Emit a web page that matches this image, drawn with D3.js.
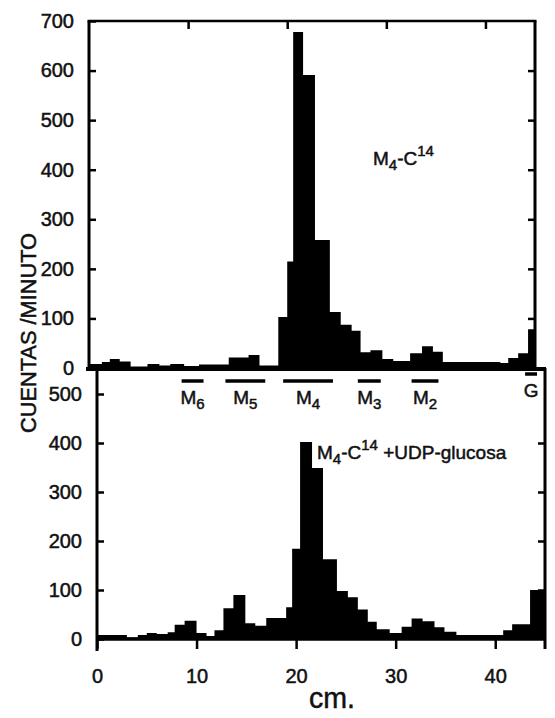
<!DOCTYPE html>
<html>
<head>
<meta charset="utf-8">
<script src="https://cdn.jsdelivr.net/npm/d3@7"></script>
<style>
body { margin: 0; background: #fff; }
text { font-family: "Liberation Sans", Arial, sans-serif; fill: #111; stroke: #111; stroke-width: 0.5px; }
</style>
</head>
<body>
<div id="chart"></div>
<script>
//////////////////////////////////////////////////////////////////////////////
// Data (cm along the strip, counts per minute)

var topEdges  = [0, 1.3, 2.1, 3.1, 4.2, 5.9, 7.1, 8.2, 9.6, 11.1, 14.1, 16.1, 17.2,
                 19.1, 20.0, 20.6, 21.6, 22.8, 24.3, 25.4, 26.5, 27.4, 28.4, 29.6,
                 30.7, 32.4, 33.6, 34.7, 35.7, 41.5, 42.3, 43.3, 44.3, 45];
var topCounts = [8, 12, 18, 13, 3, 8, 5, 8, 4, 7, 21, 26, 5,
                 103, 215, 678, 591, 258, 113, 87, 75, 32, 36, 18,
                 14, 30, 44, 33, 12, 10, 20, 30, 78];

var botEdges  = [0, 3.0, 4.1, 5.0, 6.0, 7.1, 7.8, 8.8, 10.0, 11.0, 11.8, 12.7, 13.7,
                 14.9, 15.9, 17.0, 19.0, 19.6, 20.4, 21.6, 22.7, 24.1, 25.2, 26.2,
                 27.2, 28.1, 29.4, 30.6, 31.6, 32.7, 33.9, 34.9, 36.1, 40.8, 41.7, 43.5, 45];
var botCounts = [8, 3, 8, 12, 10, 14, 29, 37, 12, 6, 18, 63, 90,
                 32, 27, 43, 65, 184, 402, 349, 163, 98, 85, 60,
                 35, 20, 12, 25, 42, 36, 24, 15, 8, 18, 30, 100];

var markerNames = ["M", "M", "M", "M", "M", "G"];
var markerSubs  = ["6", "5", "4", "3", "2", ""];
var markerFrom  = [8.5, 12.9, 18.7, 26.2, 31.6, 43.0];
var markerTo    = [10.7, 16.9, 23.7, 28.5, 34.3, 44.2];

var topYTicks = [0, 100, 200, 300, 400, 500, 600, 700];
var botYTicks = [0, 100, 200, 300, 400, 500];
var xTicks    = [0, 10, 20, 30, 40];

//////////////////////////////////////////////////////////////////////////////
// Scales

var xTop = d3.scaleLinear().domain([0, 45]).range([89, 535]);
var yTop = d3.scaleLinear().domain([0, 700]).range([368, 21]);
var xBot = d3.scaleLinear().domain([0, 45]).range([97, 545]);
var yBot = d3.scaleLinear().domain([0, 500]).range([639, 394]);

// step points: each bin's left edge + closing point at the last right edge
function steps(edges, counts) {
    var pts = counts.map(function(c, i) { return {x: edges[i], v: c}; });
    pts.push({x: edges[edges.length - 1], v: counts[counts.length - 1]});
    return pts;
}

var svg = d3.select("#chart")
    .append("svg")
    .attr("width", 555)
    .attr("height", 718);

svg.append("rect").attr("width", 555).attr("height", 718).attr("fill", "#fff");

function drawHist(pts, x, y) {
    var area = d3.area()
        .curve(d3.curveStepAfter)
        .x(function(d) { return x(d.x); })
        .y0(y(0))
        .y1(function(d) { return y(d.v); });
    svg.append("path")
        .datum(pts)
        .attr("d", area)
        .attr("fill", "#000");
}

drawHist(steps(topEdges, topCounts), xTop, yTop);
drawHist(steps(botEdges, botCounts), xBot, yBot);

function line(x1, y1, x2, y2, w) {
    svg.append("line")
        .attr("x1", x1).attr("y1", y1).attr("x2", x2).attr("y2", y2)
        .attr("stroke", "#000").attr("stroke-width", w);
}

// frames
line(xTop(0), yTop(700), xTop(0), yTop(0), 3);
line(xTop(0) - 1.5, yTop(700), xTop(45) + 1.5, yTop(700), 2.5);
line(xTop(45), yTop(700), xTop(45), yTop(0), 3);
line(xTop(0) - 3, yTop(0) + 1, xBot(45) + 1, yTop(0) + 1, 4);
line(xBot(0), yTop(0), xBot(0), yBot(0) + 12, 3);
line(xBot(45), yTop(0), xBot(45), yBot(0) + 10, 3);
line(xBot(0), yBot(0), xBot(45), yBot(0), 3.5);

function styleAxis(g, size) {
    g.select(".domain").remove();
    g.selectAll(".tick line").attr("stroke", "#000").attr("stroke-width", 2.5);
    g.selectAll(".tick text")
        .attr("font-size", size)
        .attr("fill", "#111");
}

svg.append("g")
    .attr("transform", "translate(" + xTop(0) + ",0)")
    .call(d3.axisLeft(yTop).tickValues(topYTicks).tickSize(-7).tickPadding(15))
    .call(styleAxis, 20);

svg.append("g")
    .attr("transform", "translate(" + xTop(45) + ",0)")
    .call(d3.axisRight(yTop).tickValues(topYTicks.slice(1, 7)).tickSize(-7).tickFormat(""))
    .call(styleAxis, 20);

svg.append("g")
    .attr("transform", "translate(0," + yTop(700) + ")")
    .call(d3.axisTop(xTop).tickValues(xTicks.slice(1)).tickSize(-8).tickFormat(""))
    .call(styleAxis, 20);

svg.append("g")
    .attr("transform", "translate(" + xBot(0) + ",0)")
    .call(d3.axisLeft(yBot).tickValues(botYTicks).tickSize(-7).tickPadding(15))
    .call(styleAxis, 20);

svg.append("g")
    .attr("transform", "translate(" + xBot(45) + ",0)")
    .call(d3.axisRight(yBot).tickValues(botYTicks.slice(1, 5)).tickSize(-7).tickFormat(""))
    .call(styleAxis, 20);

svg.append("g")
    .attr("transform", "translate(0," + yBot(0) + ")")
    .call(d3.axisBottom(xBot).tickValues(xTicks).tickSize(10).tickPadding(20))
    .call(styleAxis, 20);

// marker bars between the panels
var markers = markerNames.map(function(n, i) {
    return {name: n, sub: markerSubs[i], a: markerFrom[i], b: markerTo[i]};
});

svg.append("g")
    .selectAll("line")
    .data(markers)
    .enter()
    .append("line")
    .attr("x1", function(d) { return xBot(d.a); })
    .attr("x2", function(d) { return xBot(d.b); })
    .attr("y1", function(d) { return d.name == "G" ? 374 : 381; })
    .attr("y2", function(d) { return d.name == "G" ? 374 : 381; })
    .attr("stroke", "#000")
    .attr("stroke-width", 3.5);

var mLabels = svg.append("g")
    .selectAll("text")
    .data(markers)
    .enter()
    .append("text")
    .attr("x", function(d) { return xBot((d.a + d.b) / 2); })
    .attr("y", function(d) { return d.name == "G" ? 397 : 404; })
    .attr("text-anchor", "middle")
    .attr("font-size", 19)
    .text(function(d) { return d.name; });

mLabels.append("tspan")
    .attr("font-size", 15)
    .attr("dy", 5)
    .text(function(d) { return d.sub; });

// curve labels
function isotopeLabel(x, y, extra) {
    var t = svg.append("text")
        .attr("x", x)
        .attr("y", y)
        .attr("font-size", 19);
    t.append("tspan").text("M");
    t.append("tspan").attr("font-size", 15).attr("dy", 5).text("4");
    t.append("tspan").attr("dy", -5).text("-C");
    t.append("tspan").attr("font-size", 15).attr("dy", -9).text("14");
    if (extra) {
        t.append("tspan").attr("dy", 9).text(extra);
    }
    return t;
}

isotopeLabel(373, 165, null);
isotopeLabel(317, 459, " +UDP-glucosa");

// axis titles
svg.append("text")
    .attr("transform", "translate(28,333) rotate(-90)")
    .attr("text-anchor", "middle")
    .attr("dy", "0.35em")
    .attr("font-size", 22)
    .attr("textLength", 200)
    .attr("lengthAdjust", "spacingAndGlyphs")
    .text("CUENTAS /MINUTO");

svg.append("text")
    .attr("x", 309)
    .attr("y", 708)
    .attr("font-size", 30)
    .attr("textLength", 46)
    .attr("lengthAdjust", "spacingAndGlyphs")
    .text("cm.");
</script>
</body>
</html>
